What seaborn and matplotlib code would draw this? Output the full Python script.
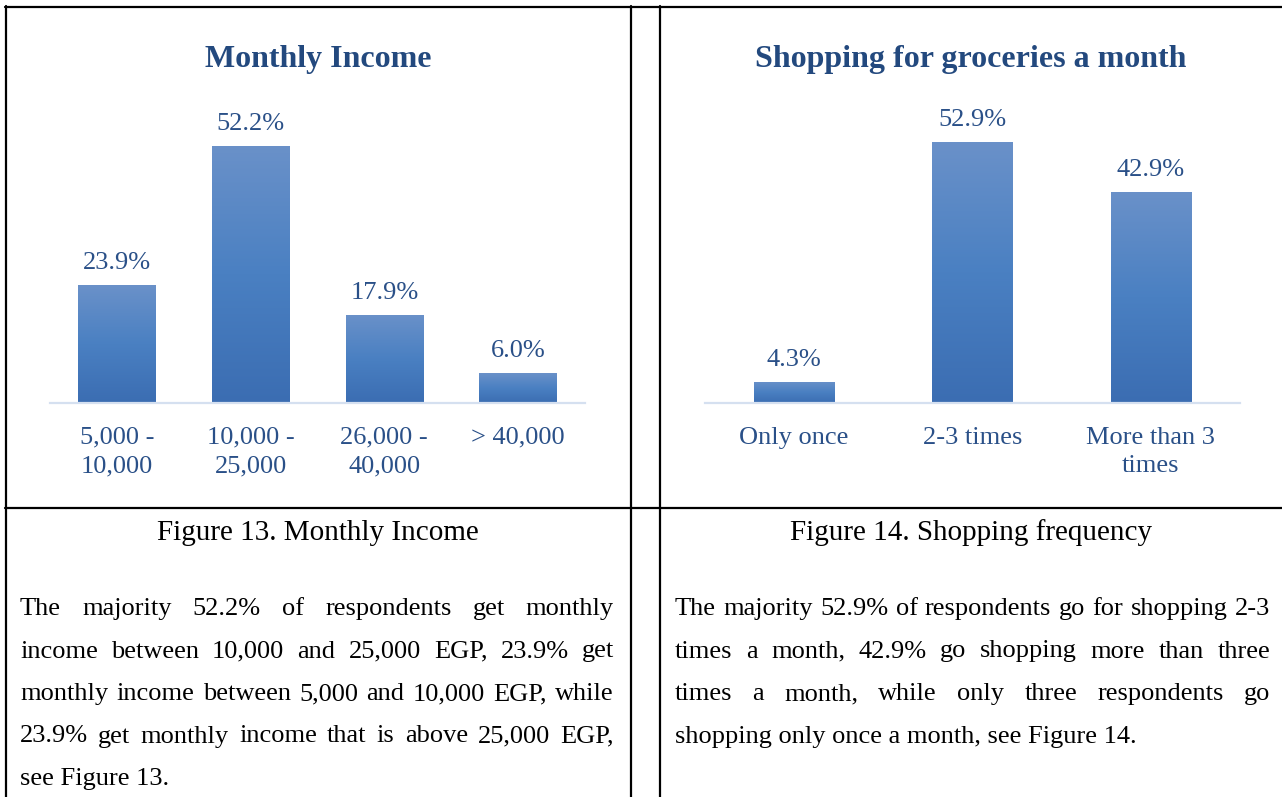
import matplotlib
matplotlib.use("Agg")
import matplotlib.pyplot as plt
import numpy as np
import seaborn as sns
from matplotlib.lines import Line2D
from matplotlib.colors import LinearSegmentedColormap

# ---------------- data ----------------
income_cats = ["5,000 -\n10,000", "10,000 -\n25,000", "26,000 -\n40,000", "> 40,000"]
income_vals = [23.9, 52.2, 17.9, 6.0]

shop_cats = ["Only once", "2-3 times", "More than 3\ntimes"]
shop_vals = [4.3, 52.9, 42.9]

titles = ["Monthly Income", "Shopping for groceries a month"]
captions = ["Figure 13. Monthly Income", "Figure 14. Shopping frequency"]

left_par = [
    "The majority 52.2% of respondents get monthly",
    "income between 10,000 and 25,000 EGP, 23.9% get",
    "monthly income between 5,000 and 10,000 EGP, while",
    "23.9% get monthly income that is above 25,000 EGP,",
    "see Figure 13.",
]
right_par = [
    "The majority 52.9% of respondents go for shopping 2-3",
    "times a month, 42.9% go shopping more than three",
    "times a month, while only three respondents go",
    "shopping only once a month, see Figure 14.",
]

# ---------------- style ----------------
sns.set_theme(style="white")
plt.rcParams["font.family"] = ["Liberation Serif", "DejaVu Serif"]

W, H = 1282, 797
fig = plt.figure(figsize=(W / 100, H / 100), dpi=100)
fig.patch.set_facecolor("white")

TITLE_C = "#23497E"
LABEL_C = "#2A5088"
BASE_C = "#D5E0F0"
grad = LinearSegmentedColormap.from_list("g", ["#3B6DB2", "#4A80C2", "#6A91C9"])


def fx(x):
    return x / W


def fy(y):
    return 1 - y / H


def make_chart(rect, cats, vals, width):
    x0, x1, ytop, ybot = rect
    ax = fig.add_axes([fx(x0), fy(ybot), (x1 - x0) / W, (ybot - ytop) / H])
    sns.barplot(x=cats, y=vals, ax=ax, color="#4A7EC0", width=width,
                saturation=1, errorbar=None)
    ax.set_ylim(0, 61.5)
    xl = ax.get_xlim()
    # gradient fill per bar
    g = np.linspace(0, 1, 256).reshape(-1, 1)
    for p in ax.patches:
        bx, by = p.get_x(), p.get_y()
        bw, bh = p.get_width(), p.get_height()
        im = ax.imshow(g, extent=[bx, bx + bw, by, by + bh], origin="lower",
                       aspect="auto", cmap=grad, zorder=p.get_zorder() + 0.1)
        im.set_clip_path(p)
        p.set_edgecolor("none")
    ax.set_xlim(xl)
    ax.set_ylim(0, 61.5)
    ax.bar_label(ax.containers[0], labels=[f"{v:.1f}%" for v in vals],
                 padding=8, fontsize=19, color=LABEL_C)
    for s in ["top", "left", "right"]:
        ax.spines[s].set_visible(False)
    ax.spines["bottom"].set_color(BASE_C)
    ax.spines["bottom"].set_linewidth(1.6)
    ax.set_yticks([])
    ax.tick_params(axis="x", length=0, pad=17, labelsize=19, labelcolor=LABEL_C)
    for t in ax.get_xticklabels():
        t.set_linespacing(1.38)
        t.set_multialignment("center")
    ax.set_xlabel("")
    ax.set_ylabel("")
    ax.set_facecolor("none")
    return ax


make_chart((50, 585, 100, 403), income_cats, income_vals, 0.58)
make_chart((705, 1240, 100, 403), shop_cats, shop_vals, 0.45)

# titles
fig.text(fx(318), fy(67), titles[0], ha="center", va="baseline", fontsize=23,
         fontweight="bold", color=TITLE_C)
fig.text(fx(971), fy(67), titles[1], ha="center", va="baseline", fontsize=23,
         fontweight="bold", color=TITLE_C)

# captions
fig.text(fx(318), fy(540), captions[0], ha="center", va="baseline", fontsize=21, color="black")
fig.text(fx(971), fy(540), captions[1], ha="center", va="baseline", fontsize=21, color="black")

# table lines
def hline(y, xa, xb):
    fig.add_artist(Line2D([fx(xa), fx(xb)], [fy(y), fy(y)], color="black", lw=1.6,
                          transform=fig.transFigure))


def vline(x, ya, yb):
    fig.add_artist(Line2D([fx(x), fx(x)], [fy(ya), fy(yb)], color="black", lw=1.6,
                          transform=fig.transFigure))


hline(7, 5, W)
hline(508, 5, W)
vline(6, 6, H)
vline(631, 6, H)
vline(660, 6, H)

# justified paragraphs
renderer = fig.canvas.get_renderer()


def paragraph(lines, xa, xb, y0, dy, fs=19):
    for i, line in enumerate(lines):
        yb = y0 + i * dy
        words = line.split(" ")
        last = i == len(lines) - 1
        if last:
            fig.text(fx(xa), fy(yb), line, ha="left", va="baseline", fontsize=fs, color="black")
            continue
        ts = [fig.text(0, fy(yb), w, ha="left", va="baseline", fontsize=fs, color="black")
              for w in words]
        widths = [t.get_window_extent(renderer).width for t in ts]
        gap = (xb - xa - sum(widths)) / (len(words) - 1)
        x = xa
        for t, wd in zip(ts, widths):
            t.set_x(fx(x))
            x += wd + gap


paragraph(left_par, 20, 614, 615, 42.5)
paragraph(right_par, 675, 1270, 615, 42.5)

fig.savefig("out.png", dpi=100, facecolor="white")
